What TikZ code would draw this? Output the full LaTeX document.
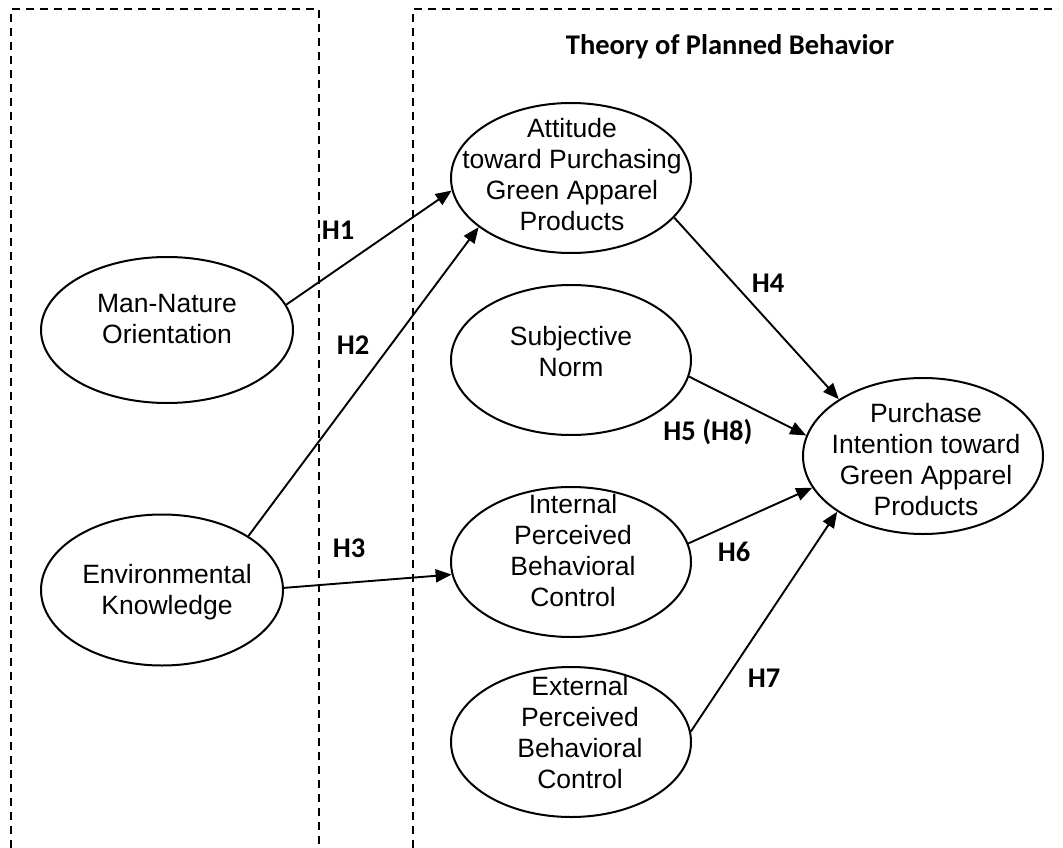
\documentclass[tikz,border=0pt]{standalone}
\usepackage{fontspec}
\setmainfont{Liberation Sans}
\newfontfamily\lblfont{Carlito}
\usetikzlibrary{shapes.geometric,arrows.meta}
\begin{document}
\begin{tikzpicture}[x=1pt,y=-1pt,
  ell/.style={draw, ellipse, line width=2pt, minimum width=240pt, minimum height=150pt, inner sep=0pt},
  etext/.style={align=center, font=\fontsize{26.5}{31}\selectfont, inner sep=0pt},
  hlbl/.style={font=\lblfont\bfseries\fontsize{28.5}{32}\selectfont, inner sep=0pt},
  conn/.style={line width=1.9pt, -{Triangle[length=16pt,width=13pt]}},
  dbox/.style={dash pattern=on 8pt off 6pt, line width=2pt}]
\useasboundingbox (0,0) rectangle (1063,848);

% dashed frames
\draw[dbox] (11,848) -- (11,9) -- (319,9) -- (319,848);
\draw[dbox] (413,848) -- (413,9) -- (1058,9);

% title
\node[hlbl] (title) at (730,47) {Theory of Planned Behavior};

% ellipses
\node[ell, minimum width=252pt, minimum height=146pt] (mn) at (167,330) {};
\node[ell, minimum width=242pt, minimum height=151pt] (ek) at (162,590) {};
\node[ell] (att) at (571,178) {};
\node[ell] (sn) at (571,360) {};
\node[ell] (ipbc) at (571,562) {};
\node[ell] (epbc) at (571,742) {};
\node[ell, minimum height=156pt] (pi) at (923,456) {};

% texts
\node[etext] (mnt) at (167,319) {Man-Nature\\Orientation};
\node[etext] (ekt) at (167,592) {Environmental\\Knowledge};
\node[etext] (attt) at (572,175) {Attitude\\toward Purchasing\\Green Apparel\\Products};
\node[etext] (snt) at (571,352) {Subjective\\Norm};
\node[etext] (ipbct) at (573,551) {Internal\\Perceived\\Behavioral\\Control};
\node[etext] (epbct) at (580,733) {External\\Perceived\\Behavioral\\Control};
\node[etext] (pit) at (926,460) {Purchase\\Intention toward\\Green Apparel\\Products};

% connectors
\draw[conn] (mn.12.5) -- (att.186);
\draw[conn] (ek.32.6) -- (att.208);
\draw[conn] (ek.1.4) -- (ipbc.186);
\draw[conn] (att.-21) -- (pi.146);
\draw[conn] (sn.-8.6) -- (pi.170);
\draw[conn] (ipbc.9.5) -- (pi.196.5);
\draw[conn] (epbc.5.8) -- (pi.213.7);

% labels
\node[hlbl] (h1) at (338,230) {H1};
\node[hlbl] (h2) at (353,345) {H2};
\node[hlbl] (h3) at (349,548) {H3};
\node[hlbl] (h4) at (768,283) {H4};
\node[hlbl] (h5) at (708,432) {H5 (H8)};
\node[hlbl] (h6) at (734,552) {H6};
\node[hlbl] (h7) at (764,678) {H7};
\end{tikzpicture}
\end{document}
